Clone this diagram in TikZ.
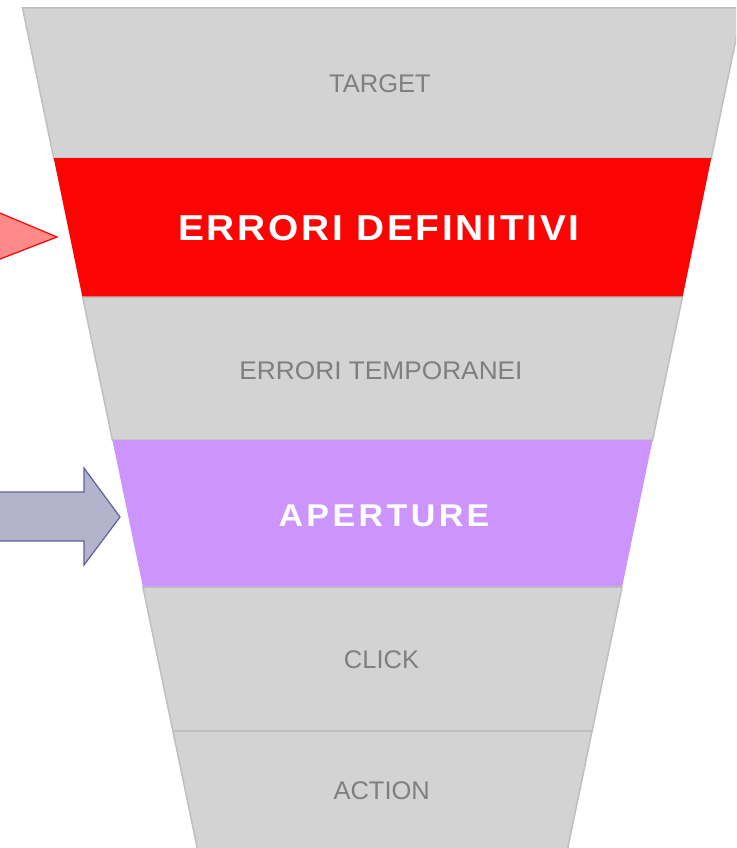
\documentclass[tikz,border=0pt]{standalone}
\usepackage{fontspec}
\setmainfont{Liberation Sans}
\newfontfamily\wideb[LetterSpace=7]{Liberation Sans Bold}
\newfontfamily\widea[LetterSpace=10]{Liberation Sans Bold}
\definecolor{bandgray}{HTML}{D3D3D3}
\definecolor{bandedge}{HTML}{BFBFBF}
\definecolor{txtgray}{HTML}{7F7F7F}
\definecolor{hotred}{HTML}{FB0404}
\definecolor{lilac}{HTML}{CC94FD}
\definecolor{redarrow}{HTML}{FF8A8A}
\definecolor{bluearrow}{HTML}{B3B3CB}
\definecolor{blueedge}{HTML}{5F5F9E}
\tikzset{
  grayband/.style={fill=bandgray, draw=bandedge, line width=1.5pt, line join=miter},
  redband/.style={fill=hotred},
  lilacband/.style={fill=lilac},
  graytext/.style={text=txtgray, font=\fontsize{25.5}{30}\selectfont, inner sep=0pt},
  boldtext/.style={text=white, inner sep=0pt},
}
\begin{document}
\begin{tikzpicture}[x=1pt,y=-1pt]
\useasboundingbox (0,0) rectangle (736,848);
\begin{scope}
\clip (0,0) rectangle (736,848);
% bands
\draw[grayband] (22.5,8) -- (742.5,8) -- (711.3,158) -- (53.7,158) -- cycle;
\fill[redband] (53.7,158) -- (711.3,158) -- (682.4,298) -- (82.6,298) -- cycle;
\draw[grayband] (82.6,297) -- (682.4,297) -- (652.6,440) -- (112.4,440) -- cycle;
\fill[lilacband] (112.4,440) -- (652.6,440) -- (622.1,587) -- (142.9,587) -- cycle;
\draw[grayband] (142.9,587) -- (622.1,587) -- (592.1,731) -- (172.9,731) -- cycle;
\draw[grayband] (172.9,731) -- (592.1,731) -- (563.2,870) -- (201.8,870) -- cycle;
% arrows
\draw[fill=redarrow, draw=red, line width=1.2pt, line join=miter]
  (-5,211) -- (57,237) -- (-5,261) -- cycle;
\draw[fill=bluearrow, draw=blueedge, line width=1.2pt, line join=miter]
  (-5,492) -- (84,492) -- (84,468) -- (120,517) -- (84,565) -- (84,541) -- (-5,541) -- cycle;
\end{scope}
% labels
\node[graytext] (target) at (380,83.5) {TARGET};
\node[boldtext] (def) at (379,228) {\scalebox{1.08}[1]{\wideb\fontsize{36}{40}\selectfont ERRORI DEFINITIVI}};
\node[graytext] (temp) at (381,370.5) {\scalebox{1.03}[1]{ERRORI TEMPORANEI}};
\node[boldtext] (aper) at (384,516) {\scalebox{1.08}[1]{\widea\fontsize{31.5}{36}\selectfont APERTURE}};
\node[graytext] (click) at (381.5,660) {CLICK};
\node[graytext] (action) at (381.7,791) {ACTION};
\end{tikzpicture}
\end{document}
